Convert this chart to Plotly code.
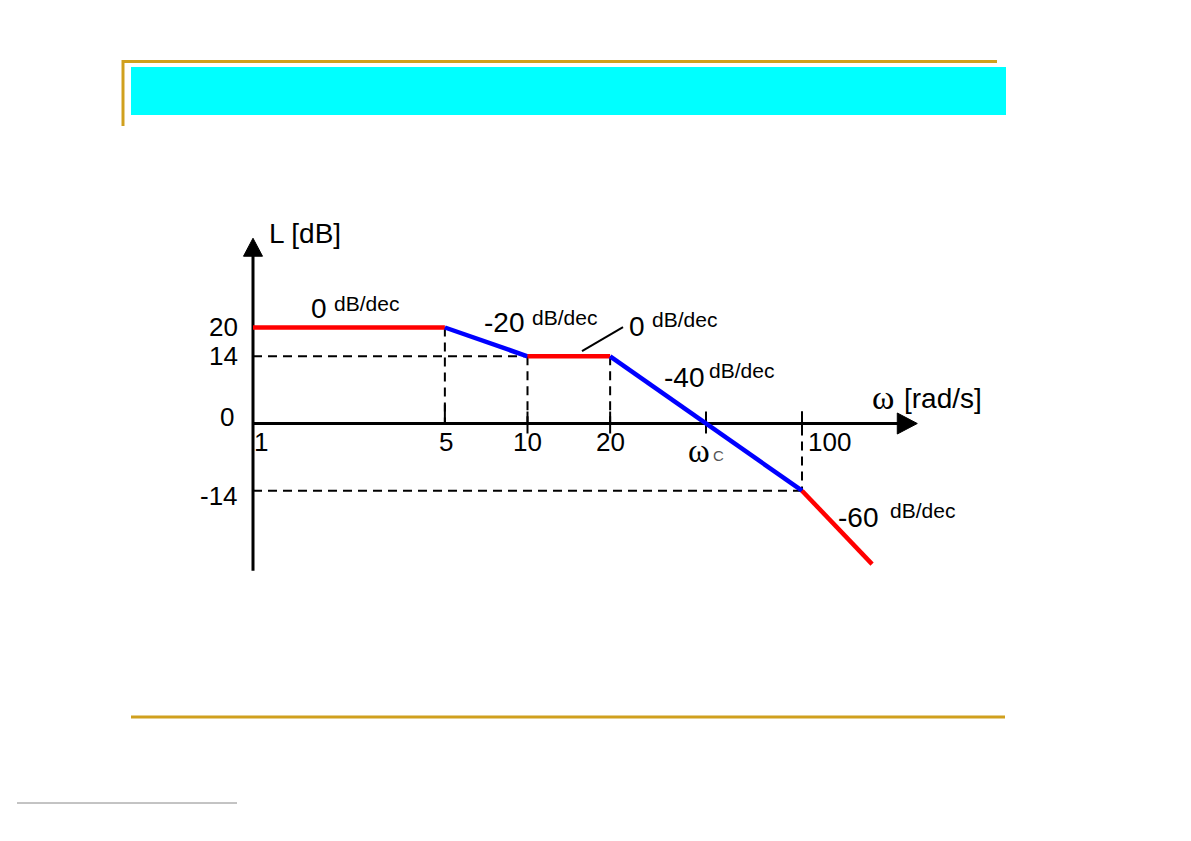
import numpy as np
import plotly.graph_objects as go

# ---------------- data ----------------
omega_break = [1, 5, 10, 20, 44.7, 100, 180]
L_break = [20, 20, 14, 14, 0, -14, -29.3]
segment_idx = [[0, 1], [1, 2], [2, 3], [3, 4, 5], [5, 6]]
segment_color = ["red", "blue", "red", "blue", "red"]

slope_values = ["0", "-20", "0", "-40", "-60"]
slope_unit = "dB/dec"

y_tick_vals = [20, 14, 0, -14]
y_tick_text = ["20", "14", "0", "-14"]
x_tick_vals = [1, 5, 10, 20, 100]
x_tick_text = ["1", "5", "10", "20", "100"]
omega_c = 44.7

# helper (dashed) guide lines: (omega, L_from, L_to) vertical ; (L, omega_to) horizontal
guide_v_omega = [5, 10, 20, 100]
guide_v_top = [20, 14, 14, 2.5]
guide_v_bottom = [0, 0, 0, -14]
guide_h_L = [14, -14]
guide_h_omega_end = [10, 100]

# ---------------- geometry / style ----------------
W, H = 1191, 841
X_ORIGIN_PX, Y_ZERO_PX = 253.0, 423.5
PX_PER_DEC, PX_PER_DB = 274.5, 4.8
x_range = [-X_ORIGIN_PX / PX_PER_DEC, (W - X_ORIGIN_PX) / PX_PER_DEC]
y_range = [(Y_ZERO_PX - H) / PX_PER_DB, Y_ZERO_PX / PX_PER_DB]

def dx(px):
    return px / PX_PER_DEC

def dy(px):
    return px / PX_PER_DB

FONT = "Liberation Sans, Arial, sans-serif"
SERIF = "Liberation Serif, Times New Roman, serif"
GOLD = "#D0A01E"
AX_X_END = 2.42      # log10(omega) at the arrow tip
AX_Y_TOP = 38.6
AX_Y_BOTTOM = -30.7
DASH = "9px,6px"

fig = go.Figure()

# dashed guides
for w, a, b in zip(guide_v_omega, guide_v_top, guide_v_bottom):
    fig.add_trace(go.Scatter(x=[np.log10(w)] * 2, y=[a, b], mode="lines",
                             line=dict(color="black", width=2, dash=DASH),
                             hoverinfo="skip"))
for Lh, we in zip(guide_h_L, guide_h_omega_end):
    fig.add_trace(go.Scatter(x=[0, np.log10(we)], y=[Lh, Lh], mode="lines",
                             line=dict(color="black", width=2, dash=DASH),
                             hoverinfo="skip"))

# small solid ticks on the omega axis
for w in [10, 20, omega_c, 100]:
    fig.add_trace(go.Scatter(x=[np.log10(w)] * 2, y=[dy(12), -dy(10)], mode="lines",
                             line=dict(color="black", width=2), hoverinfo="skip"))
fig.add_trace(go.Scatter(x=[np.log10(5)] * 2, y=[dy(19), 0], mode="lines",
                         line=dict(color="black", width=2), hoverinfo="skip"))

# axes lines
fig.add_trace(go.Scatter(x=[0, AX_X_END - dx(19)], y=[0, 0], mode="lines",
                         line=dict(color="black", width=3), hoverinfo="skip"))
fig.add_trace(go.Scatter(x=[0, 0], y=[AX_Y_BOTTOM, AX_Y_TOP - dy(17)], mode="lines",
                         line=dict(color="black", width=3), hoverinfo="skip"))
# arrow heads
fig.add_trace(go.Scatter(x=[AX_X_END, AX_X_END - dx(20), AX_X_END - dx(20), AX_X_END],
                         y=[0, dy(10.5), -dy(10.5), 0], mode="lines", fill="toself",
                         fillcolor="black", line=dict(color="black", width=1),
                         hoverinfo="skip"))
fig.add_trace(go.Scatter(x=[0, -dx(9.5), dx(9.5), 0],
                         y=[AX_Y_TOP, AX_Y_TOP - dy(18), AX_Y_TOP - dy(18), AX_Y_TOP],
                         mode="lines", fill="toself", fillcolor="black",
                         line=dict(color="black", width=1), hoverinfo="skip"))

# asymptotic Bode magnitude
for idx, col in zip(segment_idx, segment_color):
    fig.add_trace(go.Scatter(x=[np.log10(omega_break[i]) for i in idx],
                             y=[L_break[i] for i in idx], mode="lines",
                             line=dict(color=col, width=4.5), hoverinfo="skip"))

# leader line for the second "0 dB/dec"
fig.add_trace(go.Scatter(x=[1.1985, 1.348], y=[15.1, 20.1], mode="lines",
                         line=dict(color="black", width=2), hoverinfo="skip"))

ann = []

def txt(x, y, s, size, xanchor="center", yanchor="middle", xshift=0, yshift=0,
        family=FONT, color="black"):
    ann.append(dict(x=x, y=y, xref="x", yref="y", text=s, showarrow=False,
                    xanchor=xanchor, yanchor=yanchor, xshift=xshift, yshift=yshift,
                    font=dict(family=family, size=size, color=color)))

# y tick labels
y_shift = {20: 1, 14: 0, 0: 7, -14: -5}
for v, t in zip(y_tick_vals, y_tick_text):
    txt(0, v, t, 26, xanchor="right", xshift=-13 if v != 0 else -17, yshift=y_shift[v])

# x tick labels
x_shift = {1: 8, 5: 1, 10: 0, 20: 0, 100: 27}
for v, t in zip(x_tick_vals, x_tick_text):
    txt(np.log10(v), 0, t, 26, xshift=x_shift[v], yshift=-18)

# omega_c
txt(np.log10(omega_c), 0, "ω", 33, family=SERIF, xshift=-7, yshift=-27)
txt(np.log10(omega_c), 0, "C", 15, color="#555555", xshift=12, yshift=-32)

# axis titles
txt(0.051, 39.5, "L [dB]", 28, xanchor="left")
txt(2.295, 5.3, "ω", 34, family=SERIF, yshift=1)
txt(2.364, 5.3, "[rad/s]", 28, xanchor="left")

# slope labels
num_pos = [(0.2404, 24.06), (0.9126, 20.94), (1.3971, 20.31), (1.5683, 9.58), (2.2040, -19.58)]
unit_pos = [(0.4135, 24.9), (1.1330, 22.08), (1.5719, 21.67), (1.7814, 11.04), (2.4390, -18.13)]
for s, (xn, yn), (xu, yu) in zip(slope_values, num_pos, unit_pos):
    txt(xn, yn, s, 28)
    txt(xu, yu, slope_unit, 21)

# slide decorations (paper coordinates from pixel geometry)
def pxx(p):
    return p / W

def pxy(p):
    return 1 - p / H

shapes = [
    dict(type="rect", xref="paper", yref="paper", x0=pxx(131), x1=pxx(1006),
         y0=pxy(67), y1=pxy(115), fillcolor="#00FFFF", line=dict(width=0), layer="below"),
    dict(type="line", xref="paper", yref="paper", x0=pxx(122), x1=pxx(997),
         y0=pxy(61.5), y1=pxy(61.5), line=dict(color=GOLD, width=3)),
    dict(type="line", xref="paper", yref="paper", x0=pxx(123), x1=pxx(123),
         y0=pxy(60), y1=pxy(126), line=dict(color=GOLD, width=3)),
    dict(type="line", xref="paper", yref="paper", x0=pxx(131), x1=pxx(1005),
         y0=pxy(717), y1=pxy(717), line=dict(color=GOLD, width=3)),
    dict(type="line", xref="paper", yref="paper", x0=pxx(17), x1=pxx(237),
         y0=pxy(803), y1=pxy(803), line=dict(color="#888888", width=1)),
]

fig.update_layout(
    width=W, height=H, margin=dict(l=0, r=0, t=0, b=0),
    paper_bgcolor="white", plot_bgcolor="white", showlegend=False,
    xaxis=dict(range=x_range, visible=False, fixedrange=True),
    yaxis=dict(range=y_range, visible=False, fixedrange=True),
    annotations=ann, shapes=shapes,
)

fig.write_html("out.html", config={"displayModeBar": False},
               post_script="document.body.style.margin='0';")
